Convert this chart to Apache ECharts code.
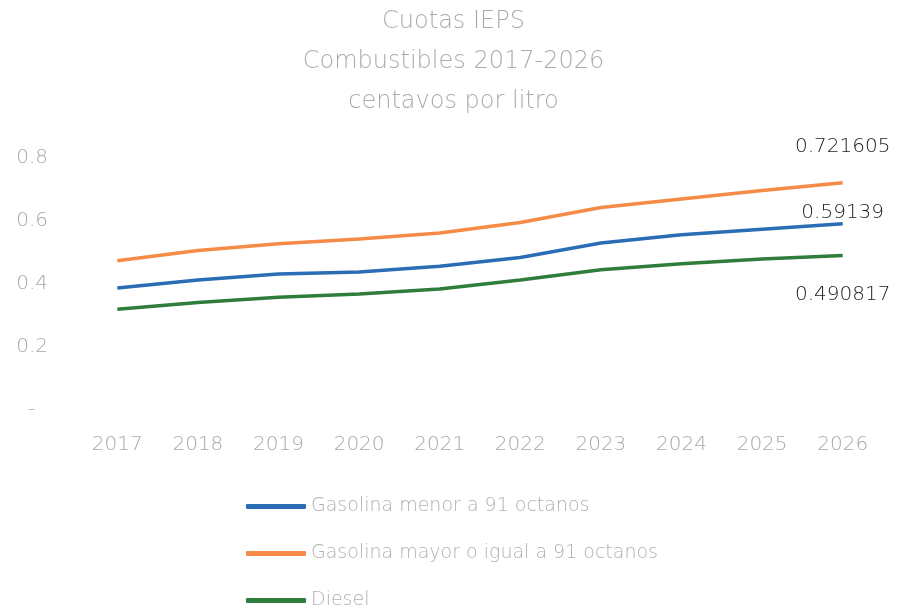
<!DOCTYPE html>
<html>
<head>
<meta charset="utf-8">
<script src="https://cdn.jsdelivr.net/npm/echarts@6/dist/echarts.min.js"></script>
<style>
  * { margin: 0; padding: 0; }
  #chart-container { width: 907px; height: 612px; background: #fff; }
</style>
</head>
<body>
<div id="chart-container"></div>
<script>
  var years = ['2017', '2018', '2019', '2020', '2021', '2022', '2023', '2024', '2025', '2026']
  var seriesNames = ['Gasolina menor a 91 octanos', 'Gasolina mayor o igual a 91 octanos', 'Diesel']
  var gasolinaMenor = [0.387, 0.413, 0.432, 0.438, 0.456, 0.484, 0.530, 0.556, 0.574, 0.59139]
  var gasolinaMayor = [0.474, 0.506, 0.528, 0.543, 0.562, 0.595, 0.643, 0.670, 0.697, 0.721605]
  var diesel = [0.320, 0.341, 0.358, 0.368, 0.384, 0.413, 0.445, 0.464, 0.479, 0.490817]

  var colors = ['#2a6db5', '#f68b47', '#2f7d3b']
  var font = 'DejaVu Sans'

  // label only the last point of each line
  function withEndLabel(values, label) {
    return values.map(function (v, i) {
      if (i !== values.length - 1) return v
      return { value: v, label: Object.assign({ show: true, formatter: String(v) }, label) }
    })
  }

  var labelText = { color: '#222', fontSize: 20, fontFamily: font, fontWeight: 300 }

  var chartDom = document.getElementById('chart-container')
  var myChart = echarts.init(chartDom, null, { renderer: 'canvas' })

  var lineBase = {
    type: 'line',
    symbol: 'circle',
    symbolSize: 0,
    showSymbol: true,
    lineStyle: { width: 3.5 },
    labelLayout: { hideOverlap: false },
  }

  var option = {
    animation: false,
    color: colors,
    title: {
      text: 'Cuotas IEPS\nCombustibles 2017-2026\ncentavos por litro',
      left: 'center',
      top: -3,
      textStyle: {
        color: '#ababab',
        fontSize: 24,
        fontWeight: 300,
        fontFamily: font,
        lineHeight: 40,
      },
    },
    legend: {
      orient: 'vertical',
      left: 246,
      top: 497,
      height: 200,
      padding: 0,
      itemGap: 28,
      itemWidth: 60,
      itemHeight: 5,
      icon: 'roundRect',
      data: seriesNames,
      textStyle: { color: '#b0b0b0', fontSize: 19, fontFamily: font, fontWeight: 300, padding: [0, 0, 0, 0] },
    },
    grid: {
      left: 77,
      right: 24,
      top: 158,
      bottom: 202,
    },
    xAxis: {
      type: 'category',
      data: years,
      boundaryGap: true,
      axisLine: { show: false },
      axisTick: { show: false },
      axisLabel: { color: '#a8a8a8', fontSize: 20, margin: 25, fontFamily: font, fontWeight: 300 },
    },
    yAxis: {
      type: 'value',
      min: 0,
      max: 0.8,
      interval: 0.2,
      splitLine: { show: false },
      axisLabel: {
        color: '#a8a8a8',
        fontSize: 20,
        margin: 29,
        fontFamily: font,
        fontWeight: 300,
        formatter: function (v) { return v === 0 ? '-  ' : v.toFixed(1) },
      },
    },
    series: [
      Object.assign({}, lineBase, {
        name: seriesNames[0],
        data: withEndLabel(gasolinaMenor, Object.assign({ position: 'top', distance: 1, offset: [17, 0] }, labelText)),
      }),
      Object.assign({}, lineBase, {
        name: seriesNames[1],
        data: withEndLabel(gasolinaMayor, Object.assign({ position: 'top', distance: 26, offset: [2, 0] }, labelText)),
      }),
      Object.assign({}, lineBase, {
        name: seriesNames[2],
        data: withEndLabel(diesel, Object.assign({ position: 'bottom', distance: 29, offset: [2, 0] }, labelText)),
      }),
    ],
  }

  myChart.setOption(option)
  window.addEventListener('resize', myChart.resize)
</script>
</body>
</html>
